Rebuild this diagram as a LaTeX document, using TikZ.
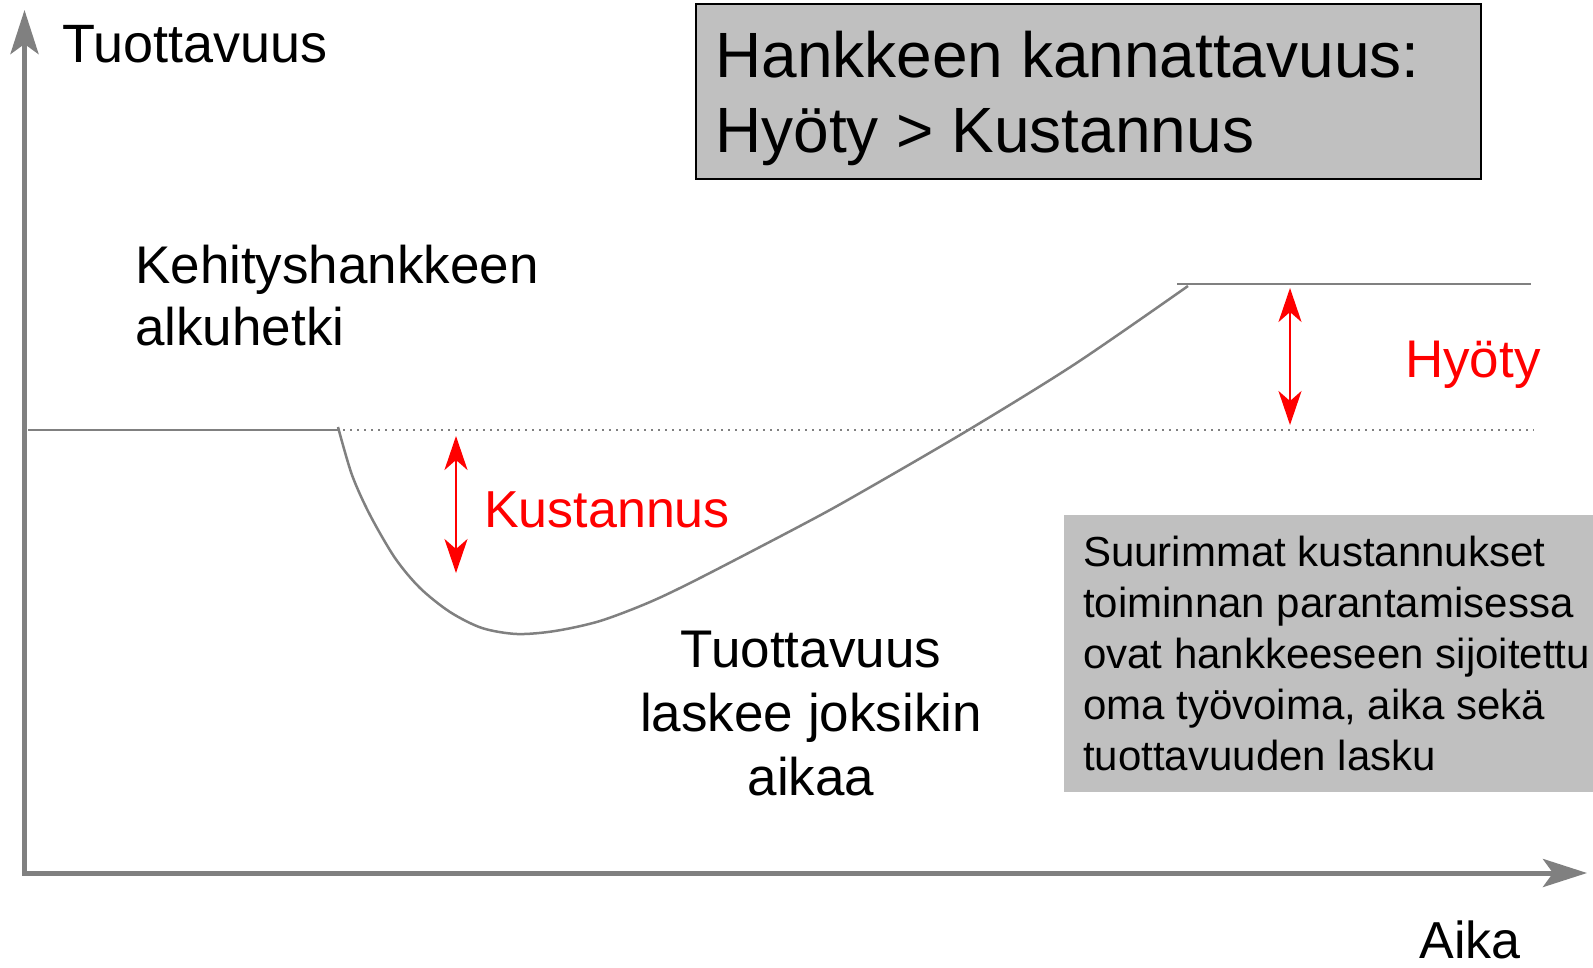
\documentclass[tikz,border=0pt]{standalone}
\usepackage{fontspec}
\setmainfont{Liberation Sans}
\usetikzlibrary{arrows.meta}
\definecolor{axisgray}{HTML}{808080}
\definecolor{boxgray}{HTML}{C0C0C0}
\definecolor{tred}{HTML}{FF0000}
\begin{document}
\begin{tikzpicture}[x=1pt,y=-1pt,
  axisline/.style={draw=axisgray, line width=5pt, -{Stealth[length=44pt,width=28pt,inset=10pt]}},
  redarrow/.style={draw=tred, line width=2.8pt, {Stealth[length=34pt,width=23pt,inset=10pt]}-{Stealth[length=34pt,width=23pt,inset=10pt]}},
  grayline/.style={draw=axisgray, line width=2.5pt},
  dotline/.style={draw=axisgray, line width=2pt, dash pattern=on 2pt off 5pt},
  lbl/.style={inner sep=0pt, anchor=base west, align=left},
  bigtxt/.style={font=\fontsize{53}{62}\selectfont},
  boxshape/.style={fill=boxgray, inner sep=0pt, anchor=north west}
]
\useasboundingbox (0,0) rectangle (1593,967);
\clip (0,0) rectangle (1593,967);
\fill[white] (0,0) rectangle (1593,967);

% coordinates
\coordinate (ybot) at (24.5,875);
\coordinate (ytop) at (24.5,10);
\coordinate (xleft) at (22,873);
\coordinate (xright) at (1587,873);
\coordinate (base0) at (28,430);
\coordinate (base1) at (336,430);
\coordinate (dot1) at (1534,430);
\coordinate (top0) at (1177,284);
\coordinate (top1) at (1531,284);
\coordinate (k0) at (456,436);
\coordinate (k1) at (456,573);
\coordinate (h0) at (1290,288);
\coordinate (h1) at (1290,425);

% boxes
\node[boxshape, draw=black, line width=2pt, minimum width=785pt, minimum height=175pt] (titlebox) at (695,3) {};
\node[boxshape, minimum width=540pt, minimum height=277pt] (notebox) at (1064,515) {};

% axes
\draw[axisline] (ybot) -- (ytop);
\draw[axisline] (xleft) -- (xright);

% level lines
\draw[grayline] (base0) -- (base1);
\draw[dotline] (base1) -- (dot1);
\draw[grayline] (top0) -- (top1);

% curve
\draw[grayline] plot[smooth, tension=0.5] coordinates {
  (338,427) (352,475) (370,515) (395,558) (420,588) (450,612) (482,628)
  (517,634) (555,631) (600,621) (650,602) (700,578) (800,526) (853,497)
  (965,432) (1075,364) (1188,286)};

% red arrows
\draw[redarrow] (k0) -- (k1);
\draw[redarrow] (h0) -- (h1);

% texts
\node[lbl, font=\fontsize{54}{62}\selectfont] (ylab) at (62,62) {Tuottavuus};
\node[lbl, bigtxt] (kehitys) at (135,345) {Kehityshankkeen\\alkuhetki};
\node[lbl, font=\fontsize{52}{62}\selectfont, text=tred] (kust) at (484,527) {Kustannus};
\node[lbl, bigtxt, text=tred] (hyoty) at (1405,377) {Hyöty};
\node[lbl, font=\fontsize{53}{64}\selectfont, align=center, anchor=base] (lasku) at (811,795) {Tuottavuus\\laskee joksikin\\aikaa};
\node[lbl, font=\fontsize{52}{62}\selectfont, anchor=base] (aika) at (1470,958) {Aika};
\node[lbl, font=\fontsize{64}{75}\selectfont] (title) at (715,152) {Hankkeen kannattavuus:\\Hyöty > Kustannus};
\node[lbl, font=\fontsize{42}{51}\selectfont] (note) at (1083,770) {Suurimmat kustannukset\\toiminnan parantamisessa\\ovat hankkeeseen sijoitettu\\oma työvoima, aika sekä\\tuottavuuden lasku};
\end{tikzpicture}
\end{document}
